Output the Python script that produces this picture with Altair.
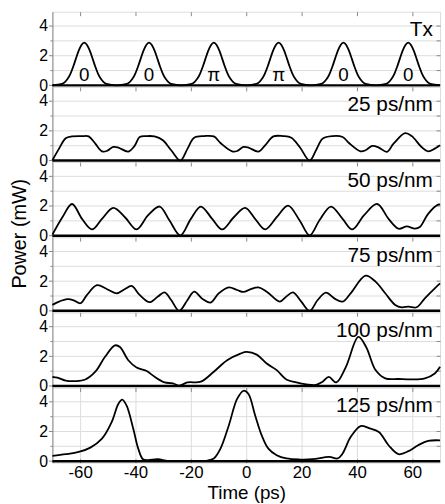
import altair as alt
import pandas as pd

# ---------------- data ----------------
panel_labels = ["Tx", "25 ps/nm", "50 ps/nm", "75 ps/nm", "100 ps/nm", "125 ps/nm"]

t_tx = [-70,
        -66.5, -65.5, -64.5, -63.5, -62.5, -61.5, -60.5, -59.5, -58.5, -57.5, -56.5, -55.5, -54.5, -53.5, -52.5, -51.5, -50.5,
        -46.8,
        -43.1, -42.1, -41.1, -40.1, -39.1, -38.1, -37.1, -36.1, -35.1, -34.1, -33.1, -32.1, -31.1, -30.1, -29.1, -28.1, -27.1,
        -23.4,
        -19.7, -18.7, -17.7, -16.7, -15.7, -14.7, -13.7, -12.7, -11.7, -10.7, -9.7, -8.7, -7.7, -6.7, -5.7, -4.7, -3.7,
        0,
        3.7, 4.7, 5.7, 6.7, 7.7, 8.7, 9.7, 10.7, 11.7, 12.7, 13.7, 14.7, 15.7, 16.7, 17.7, 18.7, 19.7,
        23.4,
        27.1, 28.1, 29.1, 30.1, 31.1, 32.1, 33.1, 34.1, 35.1, 36.1, 37.1, 38.1, 39.1, 40.1, 41.1, 42.1, 43.1,
        46.8,
        50.5, 51.5, 52.5, 53.5, 54.5, 55.5, 56.5, 57.5, 58.5, 59.5, 60.5, 61.5, 62.5, 63.5, 64.5, 65.5, 66.5,
        70]
p_tx = [0.01,
        0.1, 0.22, 0.44, 0.78, 1.25, 1.8, 2.33, 2.72, 2.87, 2.72, 2.33, 1.8, 1.25, 0.78, 0.44, 0.22, 0.1,
        0.0,
        0.1, 0.22, 0.44, 0.78, 1.25, 1.8, 2.33, 2.72, 2.87, 2.72, 2.33, 1.8, 1.25, 0.78, 0.44, 0.22, 0.1,
        0.0,
        0.1, 0.22, 0.44, 0.78, 1.25, 1.8, 2.33, 2.72, 2.87, 2.72, 2.33, 1.8, 1.25, 0.78, 0.44, 0.22, 0.1,
        0.0,
        0.1, 0.22, 0.44, 0.78, 1.25, 1.8, 2.33, 2.72, 2.87, 2.72, 2.33, 1.8, 1.25, 0.78, 0.44, 0.22, 0.1,
        0.0,
        0.1, 0.22, 0.44, 0.78, 1.25, 1.8, 2.33, 2.72, 2.87, 2.72, 2.33, 1.8, 1.25, 0.78, 0.44, 0.22, 0.1,
        0.0,
        0.1, 0.22, 0.44, 0.78, 1.25, 1.8, 2.33, 2.72, 2.87, 2.72, 2.33, 1.8, 1.25, 0.78, 0.44, 0.22, 0.1,
        0.01]

t_25 = [-70, -67.6, -65.2, -62.9, -59.3, -56.9, -54.5, -52.1, -50.4, -48, -46.2, -42.6, -40.2, -38.5, -36.1,
        -33.1, -30.1, -27.1, -23.8, -21.2, -18.8, -15.2, -11.7, -9.3, -5.1, -3.3, -1, 0.8, 4.4, 6.8,
        9.8, 13.3, 16.3, 19.3, 22.9, 25.2, 27.6, 31.2, 34.8, 37.1, 41.3, 43.1, 45.5, 47.9, 50.8,
        53.2, 57.4, 59.8, 63.3, 65.7, 68.1, 70]
p_25 = [0.02, 0.8, 1.5, 1.62, 1.64, 1.62, 1.13, 0.62, 0.64, 0.91, 0.87, 0.6, 1.02, 1.58, 1.64,
        1.62, 1.36, 0.69, 0.0, 0.8, 1.53, 1.64, 1.62, 1.18, 0.62, 0.64, 0.91, 0.87, 0.6, 1.02,
        1.62, 1.64, 1.53, 0.91, 0.0, 0.69, 1.47, 1.64, 1.58, 1.18, 0.62, 0.69, 0.98, 0.87, 0.58,
        1.13, 1.84, 1.64, 0.91, 0.62, 0.8, 1.02]

t_50 = [-70, -66.4, -62.9, -59.3, -55.7, -52.1, -48, -43.8, -39.6, -35.5, -31.3, -27.7, -23.8, -20, -16.4,
        -12.3, -8.7, -4.5, -0.4, 3.2, 6.8, 11, 15.1, 19.3, 22.9, 26.4, 30.6, 34.8, 38.3, 42.5,
        47.3, 51.4, 55, 58, 60.9, 62.7, 65.7, 69.3, 70]
p_50 = [0.07, 1.24, 2.13, 1.13, 0.42, 1.13, 1.87, 1.24, 0.42, 1.36, 1.96, 1.02, 0.02, 1.13, 1.96,
        1.13, 0.42, 1.24, 1.87, 1.13, 0.42, 1.24, 2.02, 1.02, 0.02, 1.02, 1.96, 1.13, 0.42, 1.36,
        2.13, 1.13, 0.47, 0.62, 0.47, 0.58, 1.47, 2.09, 2.09]

t_75 = [-70, -67.6, -64.6, -62.3, -59.9, -57.5, -53.9, -50.4, -46.8, -43.8, -41.4, -38.5, -34.9, -31.9, -29.5,
        -27.1, -24.2, -21.2, -18.8, -15.8, -12.9, -9.9, -6.3, -3.3, -1, 1.4, 4.4, 7.4, 12.1, 14.5,
        16.9, 19.9, 22.9, 25.8, 28.8, 31.8, 34.8, 37.7, 43.1, 46.7, 50.2, 53.8, 56.2, 58.6, 61.5,
        64.5, 68.1, 70]
p_75 = [0.4, 0.62, 0.78, 0.71, 0.51, 1.07, 1.73, 1.47, 1.18, 1.47, 1.67, 1.07, 0.58, 0.96, 1.24,
        0.73, 0.0, 0.73, 1.29, 0.8, 0.56, 1.18, 1.58, 1.4, 1.27, 1.44, 1.58, 1.29, 0.62, 0.96,
        1.24, 0.62, 0.0, 0.73, 1.22, 0.84, 0.62, 1.18, 2.36, 1.96, 1.18, 0.4, 0.24, 0.29, 0.24,
        0.84, 1.51, 1.84]

t_100 = [-70, -68.2, -65.2, -61.7, -58.1, -54.5, -51, -47.4, -45.6, -42.6, -39.6, -36.1, -33.1, -29.5, -26.5,
         -24.2, -21.2, -16.4, -11.7, -6.9, -2.1, 0.2, 3.8, 7.4, 11, 14.5, 18.1, 21.7, 25.2, 27.6,
         29.8, 32.5, 36, 40.5, 43.3, 46.7, 50.2, 55, 59.8, 64.5, 68.1, 70]
p_100 = [0.62, 0.56, 0.36, 0.33, 0.44, 0.96, 1.96, 2.73, 2.62, 1.73, 1.24, 1.02, 0.62, 0.24, 0.18,
         0.02, 0.24, 0.29, 0.96, 1.73, 2.18, 2.29, 2.11, 1.51, 1.07, 0.44, 0.24, 0.11, 0.07, 0.29,
         0.62, 0.24, 1.29, 3.3, 2.62, 1.07, 0.51, 0.47, 0.44, 0.51, 0.84, 1.29]

t_125 = [-70, -65.2, -60.5, -56.3, -52.1, -48.6, -46.2, -44.8, -43.2, -40.8, -39, -37.3, -35.5, -31.9, -28.3,
         -21.2, -14, -11.7, -9.3, -6.3, -3.3, -1, 0.8, 3.2, 5.6, 8, 11, 14.5, 19.3, 24,
         30, 33, 34.8, 37.7, 41.3, 44.3, 47.9, 51.4, 55, 58.6, 62.1, 65.7, 70]
p_125 = [0.36, 0.47, 0.62, 0.91, 1.51, 2.62, 3.84, 4.13, 3.73, 2.18, 0.84, 0.13, 0.07, 0.13, 0.02,
         0.02, 0.04, 0.18, 0.84, 2.4, 4.18, 4.73, 4.51, 3.09, 1.73, 0.84, 0.4, 0.18, 0.11, 0.13,
         0.29, 0.18, 0.51, 1.62, 2.36, 2.22, 1.96, 1.07, 0.47, 0.67, 1.07, 1.36, 1.4]

phase_t = [-58.5, -35.1, -11.7, 11.7, 35.1, 58.5]
phase_lbl = ["0", "0", "π", "π", "0", "0"]

x_ticks = [-60, -40, -20, 0, 20, 40, 60]
y_ticks = [0, 1, 2, 3, 4]

series = [(t_tx, p_tx), (t_25, p_25), (t_50, p_50), (t_75, p_75), (t_100, p_100), (t_125, p_125)]

# ---------------- layout ----------------
FONT = "Liberation Sans"
W, H = 392, 76
X_DOMAIN = [-70, 70]
Y_DOMAIN = [-0.1, 4.95]


def make_panel(idx, t, p, label, last):
    xs = alt.Scale(domain=X_DOMAIN, nice=False, zero=False)
    ys = alt.Scale(domain=Y_DOMAIN, nice=False, zero=False)
    df = pd.DataFrame({"t": t, "p": p})

    left_kw = dict(
        orient="left", values=y_ticks,
        labelExpr="datum.value % 2 == 0 ? datum.label : ''",
        tickSize={"condition": {"test": "datum.value % 2 == 0", "value": 4}, "value": 2.5},
        labelFontSize=16, labelPadding=1, domain=True, domainWidth=1,
        title="",
    )
    if idx == 3:
        left_kw.update(title="Power (mW)", titleFontSize=20, titleFontWeight="normal",
                       titleX=-27, titleY=-4, titleAngle=270,
                       titleBaseline="alphabetic", titleAlign="center")
    left_axis = alt.Axis(**left_kw)

    if last:
        bottom_axis = alt.Axis(
            orient="bottom", values=x_ticks, offset=-4, tickSize=4, domain=False,
            labelExpr="datum.value < 0 ? '-' + (-datum.value) : '' + datum.value",
            labelFontSize=17, labelPadding=2, labelFlush=False,
            title="Time (ps)", titleFontSize=19, titleFontWeight="normal", titlePadding=3,
        )
        x_line = alt.X("t:Q", scale=xs, axis=bottom_axis)
    else:
        x_line = alt.X("t:Q", scale=xs, axis=None)

    interp = "monotone" if idx == 0 else "catmull-rom"
    line = alt.Chart(df).mark_line(
        color="black", strokeWidth=1.8, interpolate=interp
    ).encode(x=x_line, y=alt.Y("p:Q", scale=ys, axis=left_axis))

    top_axis = alt.Axis(orient="top", values=x_ticks, offset=-4, tickSize=4,
                        domain=False, labels=False, title="")
    right_axis = alt.Axis(orient="right", values=y_ticks, offset=-4, tickSize=4,
                          domain=False, labels=False, title="")
    zdf = pd.DataFrame({"x0": [X_DOMAIN[0]], "x1": [X_DOMAIN[1]], "z": [0]})
    zero = alt.Chart(zdf).mark_rule(color="black", strokeWidth=2.5).encode(
        x=alt.X("x0:Q", scale=xs, axis=top_axis),
        x2="x1:Q",
        y=alt.Y("z:Q", scale=ys, axis=right_axis),
    )

    ldf = pd.DataFrame({"t": [67.4], "p": [3.3], "s": [label]})
    lab = alt.Chart(ldf).mark_text(
        align="right", baseline="alphabetic", font=FONT, fontSize=21, color="black"
    ).encode(
        x=alt.X("t:Q", scale=xs, axis=None),
        y=alt.Y("p:Q", scale=ys, axis=None),
        text="s:N",
    )

    layers = [line, zero, lab]
    if idx == 0:
        pdf = pd.DataFrame({"t": phase_t, "p": [0.31] * len(phase_t), "s": phase_lbl})
        ph = alt.Chart(pdf).mark_text(
            align="center", baseline="alphabetic", font=FONT, fontSize=19, color="black"
        ).encode(
            x=alt.X("t:Q", scale=xs, axis=None),
            y=alt.Y("p:Q", scale=ys, axis=None),
            text="s:N",
        )
        layers.append(ph)

    return alt.layer(*layers).resolve_axis(x="independent", y="independent").properties(
        width=W, height=H
    )


panels = [make_panel(i, t, p, panel_labels[i], i == len(series) - 1)
          for i, (t, p) in enumerate(series)]

chart = alt.vconcat(*panels, spacing=0, bounds="flush").properties(
    padding={"left": 9, "top": 8, "right": 0, "bottom": 0},
    background="white",
).configure_view(
    stroke="black", strokeWidth=1
).configure_axis(
    labelFont=FONT, labelColor="black", titleFont=FONT, titleColor="black",
    titleFontWeight="normal", tickColor="black", tickWidth=1, domainColor="black",
    grid=False,
).configure(font=FONT)

chart.save("out.html", embed_options={"renderer": "svg", "actions": False})
